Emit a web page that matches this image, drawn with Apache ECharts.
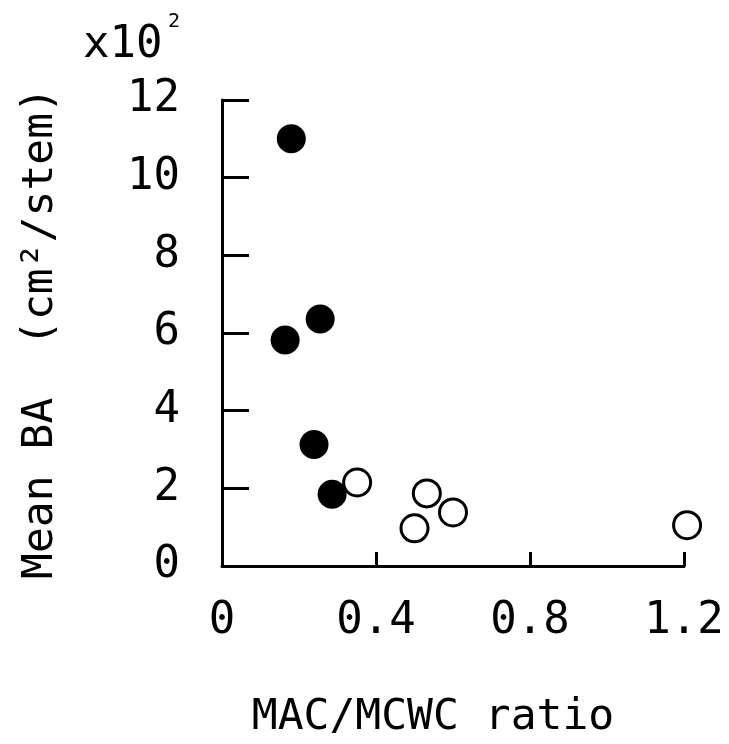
<!DOCTYPE html>
<html>
<head>
<meta charset="utf-8">
<script src="https://cdn.jsdelivr.net/npm/echarts@6/dist/echarts.min.js"></script>
<style>
  html, body { margin: 0; padding: 0; background: #fff; }
  #chart { width: 729px; height: 744px; }
</style>
</head>
<body>
<div id="chart"></div>
<script>
// filled circles
var filledX = [0.18, 0.164, 0.255, 0.239, 0.286];
var filledY = [11.0, 5.82, 6.36, 3.13, 1.85];
// open circles
var openX = [0.351, 0.532, 0.60, 0.50, 1.208];
var openY = [2.15, 1.87, 1.38, 0.97, 1.05];

function pairs(xs, ys) {
    return xs.map(function (x, i) { return [x, ys[i]]; });
}

var font = 'DejaVu Sans Mono';
var chart = echarts.init(document.getElementById('chart'));

chart.setOption({
    backgroundColor: '#fff',
    animation: false,
    grid: { left: 222, top: 100, width: 462, height: 466 },
    xAxis: {
        type: 'value',
        min: 0, max: 1.2, interval: 0.4,
        name: 'MAC/MCWC ratio',
        nameLocation: 'middle',
        nameGap: 130,
        nameTextStyle: { fontFamily: font, fontSize: 43, color: '#000', padding: [0, 40, 0, 0] },
        axisLine: { lineStyle: { color: '#000', width: 3 } },
        axisTick: { inside: true, length: 14, lineStyle: { color: '#000', width: 3 } },
        axisLabel: { fontFamily: font, fontSize: 44, color: '#000', margin: 34 },
        splitLine: { show: false }
    },
    yAxis: {
        type: 'value',
        min: 0, max: 12, interval: 2,
        name: 'Mean BA  (cm\u00b2/stem)',
        nameLocation: 'middle',
        nameGap: 160,
        nameTextStyle: { fontFamily: font, fontSize: 43, color: '#000' },
        axisLine: { lineStyle: { color: '#000', width: 3 } },
        axisTick: { inside: true, length: 27, lineStyle: { color: '#000', width: 3 } },
        axisLabel: { fontFamily: font, fontSize: 44, color: '#000', margin: 42 },
        splitLine: { show: false }
    },
    graphic: [
        { type: 'text', left: 83, top: 24, style: { text: 'x10', fontFamily: font, fontSize: 44, fill: '#000' } },
        { type: 'text', left: 168, top: 12, style: { text: '2', fontFamily: font, fontSize: 20, fill: '#000' } }
    ],
    series: [
        {
            type: 'scatter',
            clip: false,
            symbol: 'circle',
            symbolSize: 29,
            itemStyle: { color: '#000', opacity: 1 },
            data: pairs(filledX, filledY)
        },
        {
            type: 'scatter',
            clip: false,
            symbol: 'circle',
            symbolSize: 27,
            itemStyle: { color: '#fff', borderColor: '#000', borderWidth: 3, opacity: 1 },
            data: pairs(openX, openY)
        }
    ]
});
</script>
</body>
</html>
